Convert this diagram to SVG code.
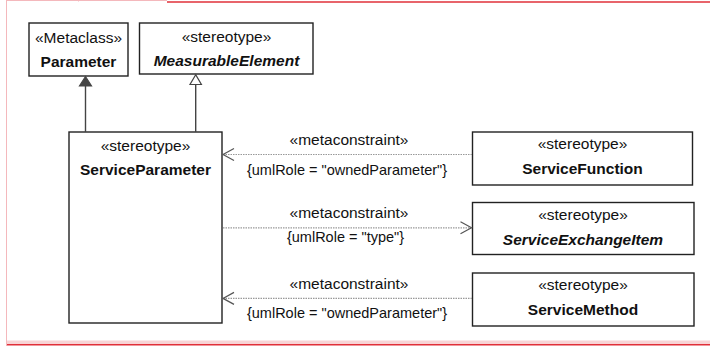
<svg xmlns="http://www.w3.org/2000/svg" width="710" height="354" viewBox="0 0 710 354">
<style>
text{font-family:"Liberation Sans",Arial,sans-serif;fill:#111;text-anchor:middle}
.st{font-size:15.5px}
.nm{font-size:15.5px;font-weight:bold}
.it{font-style:italic}
.mc{font-size:15.5px}
.ro{font-size:14.5px}
.box{fill:#fff;stroke:#222;stroke-width:1.4}
.gen{stroke:#444;stroke-width:1.4;fill:none}
.dep{stroke:#999;stroke-width:1.2;stroke-dasharray:1.5 1;fill:none}
.ah{stroke:#555;stroke-width:1.2;fill:none}
</style>
<g id="frame">
<line x1="6.5" y1="0" x2="6.5" y2="346" stroke="#f4b8bc" stroke-width="1"/>
<line x1="6" y1="0.5" x2="167" y2="0.5" stroke="#f4b8bc" stroke-width="1"/>
<line x1="78.5" y1="0" x2="78.5" y2="1.5" stroke="#f4b8bc" stroke-width="1"/>
<line x1="167" y1="2" x2="710" y2="2" stroke="#e0303a" stroke-width="1.4"/>
<rect x="7" y="340.5" width="703" height="3.5" fill="#f8d4d6"/>
<line x1="7" y1="344.8" x2="710" y2="344.8" stroke="#e0303a" stroke-width="1.4"/>
</g>
<g id="Parameter">
<rect class="box" x="29" y="23" width="99" height="53"/>
<text class="st" x="78.5" y="43">«Metaclass»</text>
<text class="nm" x="78.5" y="67">Parameter</text>
</g>
<g id="MeasurableElement">
<rect class="box" x="139.5" y="23" width="173.5" height="51"/>
<text class="st" x="226.5" y="42">«stereotype»</text>
<text class="nm it" x="226.5" y="66">MeasurableElement</text>
</g>
<g id="ServiceParameter">
<rect class="box" x="69" y="132" width="153" height="191"/>
<text class="st" x="145.5" y="151">«stereotype»</text>
<text class="nm" x="145.5" y="175">ServiceParameter</text>
</g>
<g id="ServiceFunction">
<rect class="box" x="472.5" y="132" width="220" height="53"/>
<text class="st" x="582.5" y="148.5">«stereotype»</text>
<text class="nm" x="582.5" y="173.5">ServiceFunction</text>
</g>
<g id="ServiceExchangeItem">
<rect class="box" x="472.5" y="202.5" width="221.5" height="52"/>
<text class="st" x="583" y="220">«stereotype»</text>
<text class="nm it" x="583" y="245">ServiceExchangeItem</text>
</g>
<g id="ServiceMethod">
<rect class="box" x="472.5" y="273" width="221.5" height="53"/>
<text class="st" x="583" y="289.5">«stereotype»</text>
<text class="nm" x="583" y="315">ServiceMethod</text>
</g>
<g id="connectors">
<line class="gen" x1="85.5" y1="86" x2="85.5" y2="132"/>
<polygon points="85.5,76.5 79.5,86 91.5,86" fill="#444" stroke="#444" stroke-width="1.2"/>
<line class="gen" x1="195.7" y1="84.5" x2="195.7" y2="132"/>
<polygon points="195.7,74.8 190,84.5 201.4,84.5" fill="#fff" stroke="#444" stroke-width="1.2"/>
<line class="dep" x1="223" y1="154.5" x2="472" y2="154.5"/>
<polyline class="ah" points="234,148.5 223,154.5 234,160.5"/>
<text class="mc" x="349" y="145">«metaconstraint»</text>
<text class="ro" x="347" y="175">{umlRole = "ownedParameter"}</text>
<line class="dep" x1="223" y1="227.8" x2="471.5" y2="227.8"/>
<polyline class="ah" points="460.5,221.8 471.5,227.8 460.5,233.8"/>
<text class="mc" x="349" y="217.5">«metaconstraint»</text>
<text class="ro" x="345.5" y="241.5">{umlRole = "type"}</text>
<line class="dep" x1="223" y1="298.4" x2="472" y2="298.4"/>
<polyline class="ah" points="234,292.4 223,298.4 234,304.4"/>
<text class="mc" x="349" y="288.5">«metaconstraint»</text>
<text class="ro" x="347" y="318">{umlRole = "ownedParameter"}</text>
</g>
</svg>
